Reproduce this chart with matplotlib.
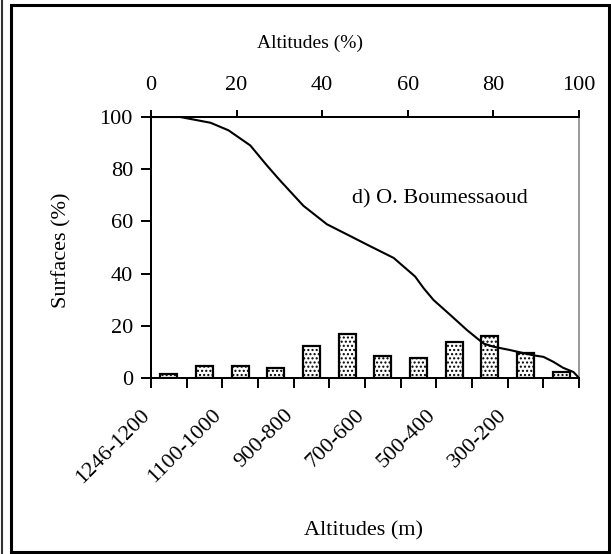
import matplotlib.pyplot as plt
from matplotlib.patches import Rectangle
from matplotlib.lines import Line2D
from matplotlib.transforms import ScaledTranslation

plt.rcParams["font.family"] = ["Liberation Serif", "DejaVu Serif"]
plt.rcParams["font.size"] = 16
plt.rcParams["hatch.color"] = "#707070"
plt.rcParams["hatch.linewidth"] = 1.0

# Tranches d'altitude (m) et surfaces partielles (%)
tranches = ["1246-1200", "1200-1100", "1100-1000", "1000-900", "900-800", "800-700",
            "700-600", "600-500", "500-400", "400-300", "300-200", "200-100"]
surfaces = [1.4, 4.6, 4.5, 3.9, 12.3, 16.8, 8.4, 7.7, 13.9, 16.1, 9.4, 2.2]

# Courbe hypsométrique : altitudes (%) et surfaces cumulées (%)
alt_pct = [0, 6.8, 13.9, 18.1, 23.2, 27.1, 30.2, 35.6, 41.1, 45.8, 51.2, 56.7,
           61.7, 63.7, 66.0, 69.9, 73.8, 77.7, 80.0, 83.9, 89.3, 91.7, 94.0,
           96.3, 98.7, 100]
surf_cum = [100, 100, 97.8, 94.9, 89.1, 81.4, 75.6, 66.0, 58.9, 55.0, 50.5, 46.0,
            38.9, 34.4, 29.9, 24.2, 18.4, 13.2, 12.0, 10.7, 8.7, 8.1, 6.2,
            3.9, 2.3, 0]

fig = plt.figure(figsize=(6.11, 5.54), dpi=100)
ax = fig.add_axes([151 / 611, 1 - 378 / 554, 428 / 611, 261 / 554])

x = range(len(tranches))
ax.bar(x, surfaces, width=0.47, color="white", edgecolor="black",
       linewidth=1.6, hatch="....", zorder=2)
ax.set_xlim(-0.5, len(tranches) - 0.5)
ax.set_ylim(0, 100)
ax.set_yticks(range(0, 101, 20))

# graduations aux limites des classes, étiquettes une classe sur deux
ax.set_xticks([i - 0.5 for i in range(len(tranches) + 1)])
ax.set_xticklabels([])
ax.set_xticks(list(x)[::2], minor=True)
ax.set_xticklabels(tranches[::2], minor=True, rotation=45, ha="right",
                   va="top", rotation_mode="anchor")
ax.tick_params(axis="x", which="minor", length=0, pad=20)
ax.tick_params(axis="x", which="major", direction="out", length=7, width=1.4)
ax.tick_params(axis="y", direction="out", length=7, width=1.4, pad=6)
offset = ScaledTranslation(-0.28, 0, fig.dpi_scale_trans)
for lbl in ax.get_xticklabels(minor=True):
    lbl.set_transform(lbl.get_transform() + offset)

ax2 = ax.twiny()
ax2.plot(alt_pct, surf_cum, color="black", linewidth=1.5, zorder=3)
ax2.set_xlim(0, 100)
ax2.set_xticks(range(0, 101, 20))
ax2.tick_params(axis="x", direction="out", length=5, width=1.4, pad=11)
ax2.text(67.5, 68.6, "d) O. Boumessaoud", ha="center", va="center")

for a in (ax, ax2):
    for s in ("left", "bottom", "top"):
        a.spines[s].set_linewidth(1.4)
    a.spines["right"].set_color("#999999")
    a.spines["right"].set_linewidth(1.2)

fig.text(310 / 611, 1 - 43 / 554, "Altitudes (%)", ha="center", va="center",
         fontsize=14)
fig.text(363 / 611, 1 - 531 / 554, "Altitudes (m)", ha="center", va="center")
fig.text(62 / 611, 1 - 250 / 554, "Surfaces (%)", ha="center", va="center",
         rotation=90)

# cadre autour du graphique
fig.patches.append(Rectangle((11 / 611, 2 / 554), 598 / 611, 547 / 554,
                             transform=fig.transFigure, fill=False,
                             edgecolor="black", linewidth=2.2))
fig.lines.append(Line2D([1.5 / 611, 1.5 / 611], [0, 1], transform=fig.transFigure,
                        color="#333333", linewidth=1.5))

fig.savefig("out.png", dpi=100)
